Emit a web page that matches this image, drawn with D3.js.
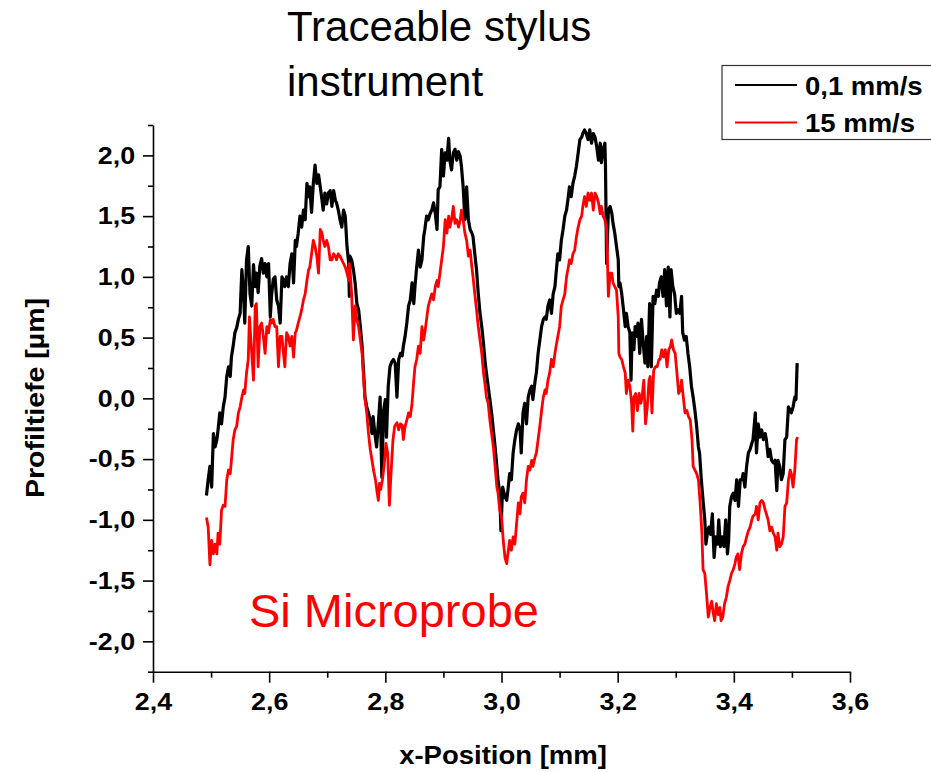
<!DOCTYPE html>
<html lang="de">
<head>
  <meta charset="utf-8">
  <title>Traceable stylus instrument</title>
  <style>
    body { margin: 0; background: #fff; }
    svg { display: block; font-family: "Liberation Sans", Arial, sans-serif; }
    .axis path, .axis line { stroke: #000; stroke-width: 1.6px; }
    .axis text { font-size: 24px; font-weight: bold; fill: #000; }
  </style>
</head>
<body>
  <svg id="chart" width="931" height="772"></svg>

  <script src="https://d3js.org/d3.v7.min.js"></script>
  <script>
    // series: [x-Position mm, Profiltiefe µm]
    const slow = [
      [2.492,-0.80],[2.495,-0.67],[2.498,-0.56],[2.501,-0.73],[2.504,-0.29],[2.507,-0.40],[2.510,-0.34],[2.512,-0.26],
      [2.515,-0.12],[2.518,-0.21],[2.521,-0.07],[2.524,0.01],[2.527,0.18],[2.530,0.26],[2.533,0.18],[2.535,0.34],
      [2.538,0.43],[2.541,0.54],[2.544,0.58],[2.547,0.65],[2.550,0.70],[2.553,1.06],[2.556,0.86],[2.558,0.62],
      [2.561,1.14],[2.564,1.25],[2.567,0.86],[2.570,0.76],[2.573,1.10],[2.576,0.92],[2.578,1.03],[2.581,0.87],
      [2.584,1.09],[2.587,1.15],[2.590,1.03],[2.593,1.11],[2.596,1.00],[2.599,1.11],[2.602,0.67],[2.604,0.84],
      [2.607,0.98],[2.610,1.00],[2.613,0.81],[2.616,0.76],[2.619,0.62],[2.622,1.00],[2.624,0.98],[2.627,0.92],
      [2.630,1.00],[2.633,0.92],[2.636,1.11],[2.639,1.19],[2.642,0.95],[2.645,1.30],[2.647,1.25],[2.650,1.36],
      [2.653,1.50],[2.656,1.41],[2.659,1.55],[2.662,1.47],[2.665,1.77],[2.668,1.66],[2.670,1.74],[2.673,1.53],
      [2.676,1.77],[2.679,1.92],[2.682,1.77],[2.685,1.84],[2.688,1.74],[2.691,1.63],[2.693,1.55],[2.696,1.69],
      [2.699,1.60],[2.702,1.69],[2.705,1.71],[2.708,1.58],[2.711,1.71],[2.714,1.63],[2.716,1.61],[2.719,1.55],
      [2.722,1.47],[2.725,1.41],[2.728,1.55],[2.731,1.50],[2.734,1.25],[2.737,1.11],[2.738,0.84],[2.739,1.17],
      [2.742,1.14],[2.745,1.06],[2.748,0.95],[2.751,0.78],[2.754,0.73],[2.757,0.59],[2.760,0.43],[2.762,0.26],
      [2.765,0.01],[2.768,-0.07],[2.771,-0.12],[2.774,-0.18],[2.777,-0.29],[2.779,-0.15],[2.782,-0.29],[2.785,-0.40],
      [2.788,-0.20],[2.791,0.01],[2.794,-0.65],[2.797,-0.10],[2.800,-0.01],[2.802,-0.32],[2.805,0.10],[2.808,0.26],
      [2.811,0.30],[2.814,0.32],[2.817,0.29],[2.820,0.01],[2.823,0.32],[2.826,0.37],[2.829,0.35],[2.831,0.43],
      [2.834,0.51],[2.837,0.62],[2.840,0.76],[2.843,0.81],[2.846,0.95],[2.849,0.78],[2.851,0.92],[2.854,1.08],
      [2.857,1.22],[2.860,1.08],[2.863,1.14],[2.866,1.33],[2.868,1.39],[2.871,1.50],[2.874,1.47],[2.877,1.52],
      [2.880,1.55],[2.883,1.61],[2.886,1.52],[2.889,1.39],[2.891,1.72],[2.894,1.74],[2.897,2.05],[2.900,1.83],
      [2.903,2.02],[2.906,1.96],[2.909,2.14],[2.911,1.96],[2.914,1.88],[2.917,2.02],[2.920,2.05],[2.923,1.96],
      [2.926,2.03],[2.929,1.99],[2.931,1.91],[2.934,1.74],[2.937,1.47],[2.940,1.74],[2.943,1.47],[2.946,1.39],
      [2.949,1.36],[2.951,1.33],[2.954,1.19],[2.957,1.06],[2.960,0.86],[2.963,0.70],[2.966,0.59],[2.969,0.45],
      [2.972,0.29],[2.974,0.21],[2.977,0.10],[2.980,-0.01],[2.983,-0.12],[2.986,-0.26],[2.989,-0.40],[2.992,-0.56],
      [2.994,-0.67],[2.997,-0.78],[2.999,-1.09],[3.002,-0.73],[3.006,-0.81],[3.009,-0.84],[3.011,-0.76],[3.014,-0.62],
      [3.017,-0.67],[3.020,-0.45],[3.023,-0.34],[3.026,-0.26],[3.029,-0.21],[3.032,-0.26],[3.034,-0.45],[3.037,-0.12],
      [3.040,-0.04],[3.043,-0.21],[3.046,0.01],[3.049,0.07],[3.052,0.10],[3.054,-0.01],[3.058,0.15],[3.060,0.21],
      [3.063,0.37],[3.066,0.48],[3.069,0.59],[3.072,0.65],[3.075,0.67],[3.077,0.65],[3.080,0.76],[3.083,0.81],
      [3.086,0.70],[3.089,0.86],[3.092,0.92],[3.094,1.03],[3.097,1.19],[3.100,1.14],[3.103,1.30],[3.106,1.39],
      [3.109,1.50],[3.112,1.55],[3.115,1.66],[3.117,1.74],[3.120,1.66],[3.123,1.77],[3.126,1.83],[3.129,1.91],
      [3.132,2.02],[3.135,2.13],[3.138,2.15],[3.140,2.18],[3.143,2.21],[3.146,2.18],[3.149,2.13],[3.152,2.21],
      [3.155,2.10],[3.158,2.18],[3.161,2.15],[3.164,2.07],[3.167,1.96],[3.170,2.10],[3.172,1.94],[3.175,2.05],
      [3.178,2.10],[3.179,1.91],[3.181,1.11],[3.184,1.55],[3.187,1.58],[3.190,1.52],[3.192,1.44],[3.195,1.36],
      [3.198,1.25],[3.201,1.14],[3.202,0.92],[3.204,0.95],[3.207,0.86],[3.210,0.73],[3.213,0.59],[3.215,0.70],
      [3.218,0.59],[3.221,0.54],[3.223,0.15],[3.225,0.54],[3.228,0.40],[3.230,0.59],[3.233,0.51],[3.235,0.62],
      [3.238,0.37],[3.241,0.65],[3.244,0.45],[3.247,0.29],[3.250,0.51],[3.252,0.26],[3.255,0.78],[3.258,0.26],
      [3.261,0.84],[3.264,0.78],[3.267,0.89],[3.270,0.84],[3.272,0.95],[3.275,1.00],[3.278,0.84],[3.281,1.06],
      [3.284,0.76],[3.287,1.08],[3.290,0.67],[3.292,1.06],[3.295,0.92],[3.298,0.86],[3.301,0.70],[3.304,0.73],
      [3.307,0.70],[3.310,0.84],[3.312,0.54],[3.315,0.48],[3.318,0.51],[3.321,0.37],[3.324,0.26],[3.327,0.10],
      [3.330,0.01],[3.333,-0.10],[3.336,-0.23],[3.339,-0.40],[3.341,-0.45],[3.344,-0.67],[3.347,-0.84],[3.350,-1.00],
      [3.352,-1.20],[3.355,-1.09],[3.357,-1.06],[3.360,-1.12],[3.363,-0.95],[3.366,-1.31],[3.369,-1.14],[3.372,-1.20],
      [3.374,-1.00],[3.377,-1.22],[3.380,-1.14],[3.383,-1.22],[3.386,-1.00],[3.389,-1.28],[3.391,-1.17],[3.393,-0.89],
      [3.396,-0.81],[3.399,-0.78],[3.402,-0.84],[3.405,-0.67],[3.408,-0.89],[3.411,-0.67],[3.414,-0.67],[3.416,-0.62],
      [3.419,-0.73],[3.422,-0.56],[3.425,-0.45],[3.428,-0.42],[3.431,-0.37],[3.433,-0.34],[3.437,-0.12],[3.439,-0.45],
      [3.442,-0.21],[3.445,-0.32],[3.448,-0.26],[3.451,-0.34],[3.454,-0.29],[3.456,-0.34],[3.459,-0.48],[3.462,-0.42],
      [3.465,-0.51],[3.468,-0.53],[3.471,-0.51],[3.474,-0.76],[3.476,-0.51],[3.479,-0.56],[3.482,-0.67],[3.485,-0.62],
      [3.488,-0.34],[3.491,-0.32],[3.494,-0.07],[3.497,-0.10],[3.499,-0.12],[3.502,-0.07],[3.505,0.01],[3.507,-0.01],
      [3.509,0.29]
    ];

    const fast = [
      [2.492,-0.98],[2.495,-1.06],[2.498,-1.37],[2.501,-1.17],[2.504,-1.28],[2.507,-1.20],[2.510,-1.28],[2.512,-1.11],
      [2.515,-1.20],[2.518,-0.92],[2.521,-0.88],[2.524,-0.89],[2.527,-0.67],[2.530,-0.59],[2.533,-0.62],[2.535,-0.51],
      [2.538,-0.34],[2.541,-0.26],[2.544,-0.23],[2.547,-0.12],[2.550,-0.07],[2.553,0.01],[2.556,0.07],[2.558,0.04],
      [2.561,0.21],[2.564,0.32],[2.566,0.67],[2.570,0.37],[2.573,0.15],[2.576,0.76],[2.578,0.78],[2.581,0.26],
      [2.584,0.59],[2.587,0.62],[2.590,0.51],[2.593,0.37],[2.596,0.59],[2.599,0.54],[2.602,0.65],[2.604,0.62],
      [2.607,0.65],[2.610,0.59],[2.613,0.59],[2.616,0.26],[2.619,0.51],[2.622,0.51],[2.624,0.40],[2.627,0.26],
      [2.630,0.54],[2.633,0.51],[2.636,0.43],[2.639,0.51],[2.642,0.34],[2.645,0.54],[2.647,0.56],[2.650,0.62],
      [2.653,0.67],[2.656,0.73],[2.659,0.81],[2.662,0.86],[2.665,0.97],[2.668,1.06],[2.670,1.08],[2.673,1.19],
      [2.676,1.30],[2.679,1.25],[2.682,1.17],[2.685,1.03],[2.688,1.39],[2.691,1.36],[2.693,1.30],[2.696,1.25],
      [2.699,1.30],[2.702,1.25],[2.705,1.14],[2.708,1.14],[2.711,1.19],[2.714,1.17],[2.716,1.14],[2.719,1.19],
      [2.722,1.17],[2.725,1.14],[2.728,1.11],[2.731,1.08],[2.734,1.03],[2.737,0.97],[2.738,1.11],[2.740,1.00],
      [2.742,0.86],[2.745,0.48],[2.748,0.76],[2.751,0.65],[2.754,0.59],[2.757,0.48],[2.760,0.37],[2.762,0.21],
      [2.765,-0.01],[2.768,-0.12],[2.771,-0.29],[2.774,-0.42],[2.777,-0.51],[2.780,-0.60],[2.783,-0.67],[2.786,-0.78],
      [2.788,-0.84],[2.790,-0.70],[2.792,-0.75],[2.795,-0.67],[2.798,-0.55],[2.801,-0.37],[2.804,-0.45],[2.807,-0.88],
      [2.810,-0.60],[2.813,-0.35],[2.816,-0.23],[2.820,-0.20],[2.823,-0.26],[2.826,-0.21],[2.829,-0.22],[2.831,-0.34],
      [2.834,-0.23],[2.837,-0.18],[2.840,-0.12],[2.843,-0.15],[2.846,-0.04],[2.849,0.15],[2.851,0.26],[2.854,0.32],
      [2.857,0.43],[2.860,0.37],[2.863,0.59],[2.866,0.48],[2.868,0.54],[2.871,0.65],[2.874,0.76],[2.877,0.81],
      [2.880,0.86],[2.883,0.81],[2.886,0.92],[2.889,0.97],[2.891,0.92],[2.894,1.03],[2.897,1.14],[2.900,1.25],
      [2.903,1.47],[2.906,1.36],[2.909,1.50],[2.911,1.41],[2.914,1.47],[2.917,1.58],[2.920,1.44],[2.923,1.47],
      [2.926,1.41],[2.929,1.47],[2.931,1.55],[2.934,1.47],[2.937,1.36],[2.940,1.30],[2.943,1.17],[2.946,1.22],
      [2.949,1.08],[2.951,1.00],[2.954,0.86],[2.957,0.73],[2.960,0.59],[2.963,0.48],[2.966,0.37],[2.969,0.21],
      [2.972,0.10],[2.974,0.01],[2.977,-0.04],[2.980,-0.18],[2.983,-0.29],[2.986,-0.40],[2.989,-0.56],[2.992,-0.73],
      [2.994,-0.78],[2.997,-0.92],[3.000,-0.97],[3.003,-1.17],[3.006,-1.31],[3.009,-1.36],[3.011,-1.28],[3.014,-1.17],
      [3.017,-1.25],[3.020,-1.14],[3.023,-1.20],[3.026,-1.03],[3.029,-0.86],[3.032,-0.95],[3.034,-0.81],[3.037,-0.78],
      [3.040,-0.86],[3.043,-0.67],[3.046,-0.56],[3.049,-0.59],[3.052,-0.51],[3.054,-0.56],[3.058,-0.48],[3.060,-0.45],
      [3.063,-0.34],[3.066,-0.23],[3.069,-0.10],[3.072,0.01],[3.075,0.07],[3.077,0.04],[3.080,0.15],[3.083,0.21],
      [3.086,0.32],[3.089,0.26],[3.092,0.37],[3.094,0.43],[3.097,0.51],[3.100,0.59],[3.103,0.76],[3.106,0.81],
      [3.109,0.86],[3.112,1.00],[3.115,1.08],[3.117,1.14],[3.120,1.11],[3.123,1.19],[3.126,1.22],[3.129,1.33],
      [3.132,1.41],[3.135,1.47],[3.138,1.50],[3.140,1.58],[3.143,1.66],[3.146,1.58],[3.149,1.69],[3.152,1.63],
      [3.155,1.69],[3.158,1.55],[3.161,1.69],[3.164,1.66],[3.167,1.61],[3.170,1.52],[3.172,1.58],[3.175,1.50],
      [3.178,1.47],[3.181,1.39],[3.184,0.84],[3.187,1.03],[3.190,1.03],[3.192,0.95],[3.195,0.92],[3.198,0.89],
      [3.201,0.67],[3.202,0.37],[3.204,0.34],[3.207,0.32],[3.210,0.26],[3.213,0.21],[3.215,0.04],[3.218,0.15],
      [3.221,0.10],[3.224,-0.04],[3.226,-0.27],[3.228,0.01],[3.231,0.04],[3.234,-0.10],[3.237,0.04],[3.240,-0.04],
      [3.242,0.01],[3.245,0.15],[3.248,-0.21],[3.251,-0.07],[3.254,0.15],[3.256,0.18],[3.259,-0.12],[3.262,0.23],
      [3.265,0.26],[3.268,0.26],[3.271,0.32],[3.273,0.32],[3.276,0.40],[3.279,0.34],[3.282,0.40],[3.285,0.26],
      [3.288,0.40],[3.291,0.43],[3.293,0.48],[3.296,0.40],[3.299,0.37],[3.302,0.21],[3.305,0.04],[3.308,0.07],
      [3.310,0.15],[3.313,0.01],[3.316,-0.12],[3.319,-0.10],[3.322,-0.15],[3.325,-0.18],[3.328,-0.34],[3.330,-0.56],
      [3.333,-0.59],[3.336,-0.62],[3.339,-0.67],[3.342,-0.86],[3.345,-1.11],[3.347,-1.41],[3.350,-1.44],[3.353,-1.61],
      [3.356,-1.80],[3.359,-1.72],[3.362,-1.67],[3.364,-1.75],[3.367,-1.83],[3.370,-1.69],[3.373,-1.78],[3.376,-1.72],
      [3.378,-1.83],[3.381,-1.80],[3.384,-1.69],[3.387,-1.64],[3.390,-1.55],[3.393,-1.50],[3.396,-1.44],[3.399,-1.41],
      [3.402,-1.36],[3.404,-1.31],[3.407,-1.28],[3.410,-1.41],[3.413,-1.28],[3.416,-1.22],[3.419,-1.20],[3.422,-1.14],
      [3.425,-1.09],[3.428,-1.06],[3.431,-1.00],[3.433,-0.97],[3.437,-0.95],[3.439,-0.89],[3.442,-1.00],[3.445,-0.86],
      [3.448,-0.84],[3.451,-0.86],[3.454,-0.92],[3.456,-0.95],[3.459,-1.00],[3.462,-1.09],[3.465,-1.06],[3.468,-1.11],
      [3.471,-1.14],[3.474,-1.25],[3.476,-1.11],[3.479,-1.22],[3.482,-1.20],[3.485,-1.14],[3.488,-0.89],[3.491,-0.86],
      [3.494,-0.67],[3.497,-0.59],[3.499,-0.62],[3.502,-0.73],[3.505,-0.59],[3.508,-0.34],[3.510,-0.32]
    ];

    const seriesNames = ["0,1 mm/s", "15 mm/s"];
    const xMajor = [2.4, 2.6, 2.8, 3.0, 3.2, 3.4, 3.6];
    const xMinor = [2.5, 2.7, 2.9, 3.1, 3.3, 3.5];
    const yMajor = [-2.0, -1.5, -1.0, -0.5, 0.0, 0.5, 1.0, 1.5, 2.0];
    const yMinor = [-2.25, -1.75, -1.25, -0.75, -0.25, 0.25, 0.75, 1.25, 1.75, 2.25];

    const svg = d3.select("#chart");
    const plotLeft = 153, plotRight = 850, plotTop = 125, plotBottom = 671.7;

    const x = d3.scaleLinear().domain([2.4, 3.6]).range([plotLeft, plotRight]);
    const y = d3.scaleLinear().domain([-2.25, 2.25]).range([plotBottom, plotTop]);
    const comma = d => d3.format(".1f")(d).replace(".", ",").replace("−", "-");

    // minor ticks
    svg.append("g").attr("class", "axis")
      .attr("transform", `translate(0,${plotBottom})`)
      .call(d3.axisBottom(x).tickValues(xMinor).tickSize(6).tickFormat(""))
      .call(g => g.select(".domain").remove());
    svg.append("g").attr("class", "axis")
      .attr("transform", `translate(${plotLeft},0)`)
      .call(d3.axisLeft(y).tickValues(yMinor).tickSize(5).tickFormat(""))
      .call(g => g.select(".domain").remove());

    // major ticks + labels
    svg.append("g").attr("class", "axis")
      .attr("transform", `translate(0,${plotBottom})`)
      .call(d3.axisBottom(x).tickValues(xMajor).tickSize(11).tickSizeOuter(0).tickPadding(10).tickFormat(comma))
      .call(g => g.selectAll("text").attr("transform", "scale(1.12,1)"));
    svg.append("g").attr("class", "axis")
      .attr("transform", `translate(${plotLeft},0)`)
      .call(d3.axisLeft(y).tickValues(yMajor).tickSize(10).tickSizeOuter(0).tickPadding(6).tickFormat(comma))
      .call(g => g.selectAll("text").attr("transform", "scale(1.12,1)"));

    // axis titles
    svg.append("text")
      .attr("transform", "translate(503,764) scale(1.1,1)")
      .attr("text-anchor", "middle")
      .attr("font-size", 25).attr("font-weight", "bold")
      .text("x-Position [mm]");
    svg.append("text")
      .attr("transform", "translate(44,398) rotate(-90) scale(1.14,1)")
      .attr("text-anchor", "middle")
      .attr("font-size", 25).attr("font-weight", "bold")
      .text("Profiltiefe [µm]");

    const line = d3.line().x(d => x(d[0])).y(d => y(d[1]));

    svg.append("path").datum(slow)
      .attr("fill", "none").attr("stroke", "#000").attr("stroke-width", 3.2)
      .attr("stroke-linejoin", "round")
      .attr("d", line);
    svg.append("path").datum(fast)
      .attr("fill", "none").attr("stroke", "#ff0000").attr("stroke-width", 2.8)
      .attr("stroke-linejoin", "round")
      .attr("d", line);

    // title + annotation
    svg.append("text").attr("x", 287).attr("y", 41)
      .attr("font-size", 42).text("Traceable stylus");
    svg.append("text").attr("x", 287).attr("y", 96)
      .attr("font-size", 42).text("instrument");
    svg.append("text").attr("x", 249).attr("y", 627)
      .attr("font-size", 47).attr("fill", "#ff0000").text("Si Microprobe");

    // legend (box runs off the right edge)
    const legend = svg.append("g");
    legend.append("rect")
      .attr("x", 722).attr("y", 65.5).attr("width", 240).attr("height", 74)
      .attr("fill", "#fff").attr("stroke", "#333").attr("stroke-width", 1.2);
    const colors = ["#000", "#ff0000"];
    seriesNames.forEach((name, i) => {
      const ly = 85 + i * 37.5;
      legend.append("line")
        .attr("x1", 735).attr("x2", 797).attr("y1", ly).attr("y2", ly)
        .attr("stroke", colors[i]).attr("stroke-width", 2.2);
      legend.append("text")
        .attr("transform", `translate(805,${ly + 9.5}) scale(1.1,1)`)
        .attr("font-size", 25).attr("font-weight", "bold")
        .text(name);
    });
  </script>
</body>
</html>
